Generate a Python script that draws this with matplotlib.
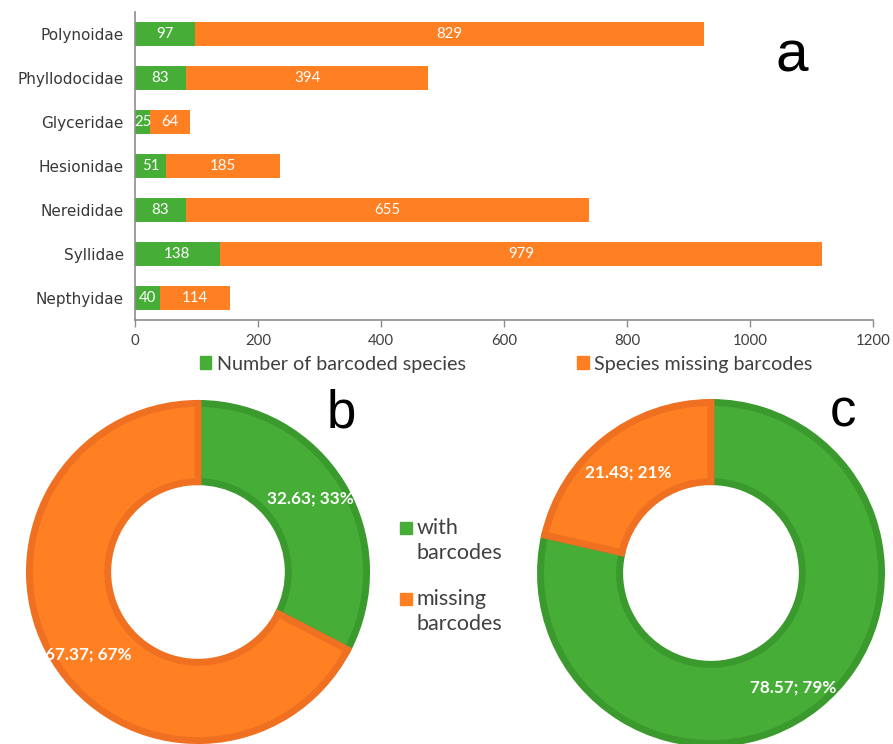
import matplotlib
matplotlib.use("Agg")
import matplotlib.pyplot as plt
from matplotlib.patches import Patch, Rectangle
import numpy as np

# ---- data ----
families = ["Polynoidae", "Phyllodocidae", "Glyceridae", "Hesionidae",
            "Nereididae", "Syllidae", "Nepthyidae"]
barcoded = [97, 83, 25, 51, 83, 138, 40]
missing = [829, 394, 64, 185, 655, 979, 114]
xticks = [0, 200, 400, 600, 800, 1000, 1200]
legend_a = ["Number of barcoded species", "Species missing barcodes"]

donut_b = [32.63, 67.37]   # with, missing
donut_c = [78.57, 21.43]   # with, missing
legend_bc = ["with\nbarcodes", "missing\nbarcodes"]

GREEN = "#46AD37"
GREEN_E = "#3A9A2D"
ORANGE = "#FF7F23"
ORANGE_E = "#EF7020"
TXT = "#404040"

W, H = 893, 744
fig = plt.figure(figsize=(W / 100, H / 100), dpi=100)

# ---- panel a ----
ax = fig.add_axes([135 / W, 1 - 320 / H, (873 - 135) / W, (320 - 12) / H])
y = np.arange(len(families))
ax.barh(y, barcoded, height=0.55, color=GREEN)
ax.barh(y, missing, left=barcoded, height=0.55, color=ORANGE)
ax.set_ylim(-0.5, len(families) - 0.5)
ax.invert_yaxis()
ax.set_xlim(0, 1200)
ax.set_xticks(xticks)
ax.set_xticklabels([str(t) for t in xticks], fontfamily="Lato", fontsize=10.8, color=TXT)
ax.set_yticks(y)
ax.set_yticklabels(families, fontfamily="DejaVu Sans", fontsize=11, color="#383838")
ax.tick_params(axis="y", length=0, pad=8)
ax.tick_params(axis="x", length=5, width=1, color="#8c8c8c", pad=5)
for s in ["top", "right"]:
    ax.spines[s].set_visible(False)
for s in ["left", "bottom"]:
    ax.spines[s].set_color("#8c8c8c")
    ax.spines[s].set_linewidth(1.2)

for i in range(len(families)):
    ax.text(barcoded[i] / 2, y[i], str(barcoded[i]), ha="center", va="center",
            color="white", fontfamily="Lato", fontsize=10.8)
    ax.text(barcoded[i] + missing[i] / 2, y[i], str(missing[i]), ha="center",
            va="center", color="white", fontfamily="Lato", fontsize=10.8)

handles = [Patch(color=GREEN), Patch(color=ORANGE)]
leg = ax.legend(handles, legend_a, loc="center", bbox_to_anchor=(0.503, -0.143),
                ncol=2, frameon=False, handlelength=0.6, handleheight=0.6,
                handletextpad=0.3, columnspacing=5.6,
                prop={"family": "Lato", "size": 14.2})
for t in leg.get_texts():
    t.set_color(TXT)

fig.text(792 / W, 1 - 57 / H, "a", fontfamily="Liberation Sans", fontsize=42,
         ha="center", va="center", color="black")

# ---- donuts ----
def donut(rect, vals, lab_pos):
    a = fig.add_axes(rect)
    wedges, _ = a.pie(vals, colors=[GREEN, ORANGE], startangle=90, counterclock=False,
                      radius=0.98, wedgeprops=dict(width=0.455, linewidth=5))
    wedges[0].set_edgecolor(GREEN_E)
    wedges[1].set_edgecolor(ORANGE_E)
    start = 90.0
    for v, (r, dang) in zip(vals, lab_pos):
        mid = np.deg2rad(start - v / 100 * 360 / 2 + dang)
        start -= v / 100 * 360
        a.text(r * np.cos(mid), r * np.sin(mid), f"{v:.2f}; {round(v)}%",
               ha="center", va="center", color="white", fontfamily="Lato",
               fontweight="bold", fontsize=12.3)
    a.set_xlim(-1, 1)
    a.set_ylim(-1, 1)
    a.set_aspect("equal")
    a.axis("off")
    return a

donut([26 / W, 0 / H, 344 / W, 344 / H], donut_b, [(0.78, 2.0), (0.80, 5.5)])
donut([537 / W, -3 / H, 348 / W, 348 / H], donut_c, [(0.81, -3), (0.75, 1)])

fig.text(341 / W, 1 - 414 / H, "b", fontfamily="Liberation Sans", fontsize=38,
         ha="center", va="center", color="black")
fig.text(843 / W, 1 - 413 / H, "c", fontfamily="Liberation Sans", fontsize=38,
         ha="center", va="center", color="black")

# legend for donuts
for (lab, col, ytop) in zip(legend_bc, [GREEN, ORANGE], [522, 593]):
    fig.patches.append(Rectangle((400 / W, 1 - (ytop + 12) / H), 12 / W, 12 / H,
                                 transform=fig.transFigure, color=col))
    fig.text(417 / W, 1 - (ytop - 4) / H, lab, fontfamily="Lato", fontsize=15.5,
             color=TXT, ha="left", va="top", linespacing=1.33)

fig.savefig("out.png", dpi=100)
